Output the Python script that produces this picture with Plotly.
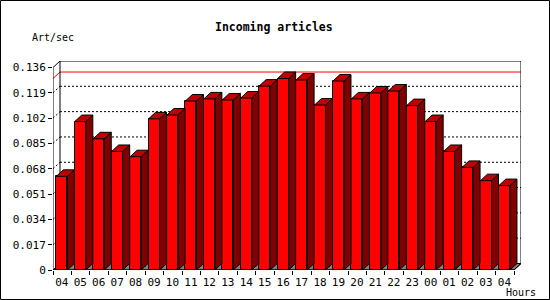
import plotly.graph_objects as go

# ---- data ----
hours = ["04", "05", "06", "07", "08", "09", "10", "11", "12", "13", "14", "15", "16",
         "17", "18", "19", "20", "21", "22", "23", "00", "01", "02", "03", "04"]
rates = [0.0629, 0.0997, 0.0881, 0.0796, 0.0761, 0.1015, 0.1041, 0.1135, 0.1149,
         0.1142, 0.1155, 0.1235, 0.1286, 0.1276, 0.1108, 0.1269, 0.1149, 0.1189,
         0.1202, 0.1104, 0.0997, 0.0796, 0.0689, 0.0600, 0.0567]
ytick_vals = [0, 0.017, 0.034, 0.051, 0.068, 0.085, 0.102, 0.119, 0.136]
ytick_text = ["0", "0.017", "0.034", "0.051", "0.068", "0.085", "0.102", "0.119", "0.136"]

# ---- geometry (pseudo-3D) ----
W, H = 550, 300
ML, MR, MT, MB = 53, 29, 61, 30
PW, PH = W - ML - MR, H - MT - MB
N = len(hours)
YTOP = ytick_vals[-1]
DXPX, DYPX = 7.0, 6.5
CATPX = (PW - DXPX) / N
DX = DXPX / CATPX
DY = YTOP * DYPX / (PH - DYPX)
XMAX = N + DX
YMAX = YTOP + DY
FL, FR = 0.18, 0.78  # bar face left/right within category

def px2paper(px, py):
    return (px - ML) / PW, (H - MB - py) / PH

FONT = "DejaVu Sans Mono"

fig = go.Figure()

# front faces
centers = [i + (FL + FR) / 2 for i in range(N)]
fig.add_trace(go.Bar(x=centers, y=rates, width=FR - FL,
                     marker=dict(color="#FF0000", line=dict(color="black", width=1)),
                     hoverinfo="skip", showlegend=False))

# side and top faces
sx, sy, tx, ty = [], [], [], []
for i, v in enumerate(rates):
    r = i + FR
    l = i + FL
    sx += [r, r + DX, r + DX, r, r, None]
    sy += [0, DY, v + DY, v, 0, None]
    tx += [l, l + DX, r + DX, r, l, None]
    ty += [v, v + DY, v + DY, v, v, None]
fig.add_trace(go.Scatter(x=sx, y=sy, mode="lines", fill="toself", fillcolor="#800000",
                         line=dict(color="black", width=1), hoverinfo="skip",
                         showlegend=False))
fig.add_trace(go.Scatter(x=tx, y=ty, mode="lines", fill="toself", fillcolor="#C00000",
                         line=dict(color="black", width=1), hoverinfo="skip",
                         showlegend=False))

shapes = []
# floor
shapes.append(dict(type="path", layer="below",
                   path=f"M 0 0 L {N} 0 L {N+DX} {DY} L {DX} {DY} Z",
                   fillcolor="#808080", line=dict(color="black", width=1)))
# dotted gridlines on back wall
for v in ytick_vals[1:-1]:
    shapes.append(dict(type="line", layer="below", x0=0, y0=v, x1=DX, y1=v + DY,
                       line=dict(color="black", width=1, dash="2px,2px")))
    shapes.append(dict(type="line", layer="below", x0=DX, y0=v + DY, x1=XMAX, y1=v + DY,
                       line=dict(color="black", width=1, dash="2px,2px")))
# max line
vmax = max(rates)
shapes.append(dict(type="line", layer="below", x0=0, y0=vmax, x1=DX, y1=vmax + DY,
                   line=dict(color="#FF0000", width=1)))
shapes.append(dict(type="line", layer="below", x0=DX, y0=vmax + DY, x1=XMAX, y1=vmax + DY,
                   line=dict(color="#FF0000", width=1)))
# back wall frame
shapes.append(dict(type="path", layer="below",
                   path=f"M {DX} {DY} L {DX} {YMAX} L {XMAX} {YMAX} L {XMAX} {DY}",
                   line=dict(color="black", width=1)))
# front axes
shapes.append(dict(type="path", layer="above",
                   path=f"M {DX} {YMAX} L 0 {YTOP} L 0 0 L {N} 0 L {N+DX} {DY}",
                   line=dict(color="black", width=1)))
# outer frame
x0, y0 = px2paper(0.5, 299.5)
x1, y1 = px2paper(549.5, 0.5)
shapes.append(dict(type="rect", xref="paper", yref="paper", x0=x0, y0=y0, x1=x1, y1=y1,
                   line=dict(color="black", width=1), fillcolor="rgba(0,0,0,0)"))

annotations = []
tx_, ty_ = px2paper(274, 27)
annotations.append(dict(text="<b>Incoming articles</b>", xref="paper", yref="paper",
                        x=tx_, y=ty_, xanchor="center", yanchor="middle", showarrow=False,
                        font=dict(family=FONT, size=11.5, color="black")))
ax_, ay_ = px2paper(30, 37)
annotations.append(dict(text="Art/sec", xref="paper", yref="paper", x=ax_, y=ay_,
                        xanchor="left", yanchor="middle", showarrow=False,
                        font=dict(family=FONT, size=10, color="black")))
hx_, hy_ = px2paper(504, 292.7)
annotations.append(dict(text="Hours", xref="paper", yref="paper", x=hx_, y=hy_,
                        xanchor="left", yanchor="middle", showarrow=False,
                        font=dict(family=FONT, size=10, color="black")))

fig.update_layout(
    width=W, height=H,
    margin=dict(l=ML, r=MR, t=MT, b=MB, pad=0),
    paper_bgcolor="white", plot_bgcolor="white",
    showlegend=False, bargap=0,
    shapes=shapes, annotations=annotations,
    xaxis=dict(range=[0, XMAX], showgrid=False, zeroline=False, showline=False,
               tickmode="array", tickvals=centers, ticktext=hours, ticks="",
               ticklabelstandoff=4,
               tickfont=dict(family=FONT, size=11, color="black"),
               minor=dict(tickmode="array", tickvals=list(range(N + 1)), ticks="outside",
                          ticklen=4, tickcolor="black", tickwidth=1, showgrid=False),
               fixedrange=True),
    yaxis=dict(range=[0, YMAX], showgrid=False, zeroline=False, showline=False,
               tickmode="array", tickvals=ytick_vals, ticktext=ytick_text,
               ticks="outside", ticklen=4, tickcolor="black", tickwidth=1,
               tickfont=dict(family=FONT, size=11, color="black"),
               fixedrange=True),
)

fig.write_html("out.html")
